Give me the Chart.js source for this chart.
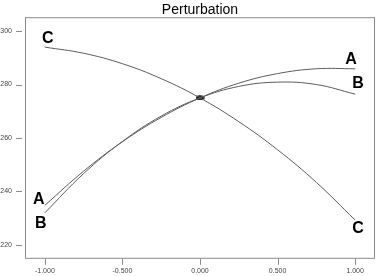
<!DOCTYPE html>
<html>
<head>
<meta charset="utf-8">
<script src="https://cdn.jsdelivr.net/npm/chart.js@4/dist/chart.umd.min.js"></script>
<style>
  html, body { margin: 0; padding: 0; background: #fff; }
  #wrap { width: 380px; height: 276px; }
</style>
</head>
<body>
<div id="wrap"><canvas id="chart"></canvas></div>
<script>
const deviation = [-1, -0.75, -0.5, -0.25, 0, 0.25, 0.5, 0.75, 1]
const seriesA = [234.8, 247.6, 258.6, 267.7, 275, 280.5, 284.1, 285.9, 285.9]
const seriesB = [232.0, 246.7, 258.7, 268.2, 275, 279.3, 280.9, 280.0, 276.4]
const seriesC = [294.0, 291.7, 287.8, 282.2, 275, 266.1, 255.6, 243.4, 229.3]
const xTicks = [-1, -0.5, 0, 0.5, 1]
const yTicks = [220, 240, 260, 280, 300]
const refPoint = { x: 0, y: 275 }

const LINE = "#5c5c5c"
const FRAME = "#8a8a8a"

const toPoints = (values) => values.map((v, i) => ({ x: deviation[i], y: v }))

// small flat ellipse used as the reference point marker
const dot = document.createElement("canvas")
dot.width = 9
dot.height = 5
const dctx = dot.getContext("2d")
dctx.fillStyle = "#000"
dctx.beginPath()
dctx.ellipse(4.5, 2.5, 4.2, 2.3, 0, 0, Math.PI * 2)
dctx.fill()

const curve = (label, values) => ({
  label,
  data: toPoints(values),
  borderColor: LINE,
  borderWidth: 1,
  pointRadius: 0,
  tension: 0.4,
  fill: false,
})

// letters at both ends of each curve, offsets in pixels from the end point
const endLabels = [
  { text: "C", series: seriesC, end: 0, dx: 3, dy: -9 },
  { text: "A", series: seriesA, end: 8, dx: -4, dy: -9 },
  { text: "B", series: seriesB, end: 8, dx: 3, dy: -11 },
  { text: "A", series: seriesA, end: 0, dx: -6, dy: -6 },
  { text: "B", series: seriesB, end: 0, dx: -4, dy: 11 },
  { text: "C", series: seriesC, end: 8, dx: 3, dy: 9 },
]

const framePlugin = {
  id: "frame",
  afterDraw(chart) {
    const { ctx, chartArea: a, scales } = chart
    ctx.save()
    ctx.strokeStyle = FRAME
    ctx.lineWidth = 1
    ctx.strokeRect(a.left + 0.5, a.top + 0.5, a.right - a.left - 1, a.bottom - a.top - 1)
    ctx.beginPath()
    yTicks.forEach((t) => {
      const y = Math.round(scales.y.getPixelForValue(t)) + 0.5
      ctx.moveTo(a.left - 9, y)
      ctx.lineTo(a.left - 3, y)
    })
    xTicks.forEach((t) => {
      const x = Math.round(scales.x.getPixelForValue(t)) + 0.5
      ctx.moveTo(x, a.bottom)
      ctx.lineTo(x, a.bottom + 6)
    })
    ctx.stroke()

    ctx.fillStyle = "#000"
    ctx.font = "bold 16px Arial, 'Liberation Sans', sans-serif"
    ctx.textAlign = "center"
    ctx.textBaseline = "middle"
    endLabels.forEach((l) => {
      const x = scales.x.getPixelForValue(deviation[l.end])
      const y = scales.y.getPixelForValue(l.series[l.end])
      ctx.fillText(l.text, x + l.dx, y + l.dy)
    })
    ctx.restore()
  },
}

new Chart(document.getElementById("chart"), {
  type: "line",
  data: {
    datasets: [
      curve("A", seriesA),
      curve("B", seriesB),
      curve("C", seriesC),
      {
        label: "reference",
        data: [refPoint],
        pointStyle: dot,
        pointRadius: 4,
        showLine: false,
      },
    ],
  },
  options: {
    animation: false,
    responsive: true,
    maintainAspectRatio: false,
    layout: { padding: { left: 0, right: 2, top: 0, bottom: 0 } },
    plugins: {
      legend: { display: false },
      tooltip: { enabled: false },
      title: {
        display: true,
        text: "Perturbation",
        fullSize: false,
        color: "#000",
        font: { family: "Arial, 'Liberation Sans', sans-serif", size: 14, weight: "normal", lineHeight: 1 },
        padding: { top: 1, bottom: 0 },
      },
    },
    scales: {
      x: {
        type: "linear",
        min: -1.128,
        max: 1.128,
        grid: { display: false, drawTicks: false },
        border: { display: false },
        afterBuildTicks: (s) => { s.ticks = xTicks.map((v) => ({ value: v })) },
        afterFit: (s) => { s.height = 17 },
        ticks: {
          padding: 8,
          color: "#444",
          maxRotation: 0,
          font: { family: "Arial, 'Liberation Sans', sans-serif", size: 7 },
          callback: (v) => Number(v).toFixed(3),
        },
      },
      y: {
        min: 214.8,
        max: 305.2,
        grid: { display: false, drawTicks: false },
        border: { display: false },
        afterBuildTicks: (s) => { s.ticks = yTicks.map((v) => ({ value: v })) },
        afterFit: (s) => { s.width = 25 },
        ticks: {
          padding: 13,
          color: "#444",
          font: { family: "Arial, 'Liberation Sans', sans-serif", size: 7 },
          callback: (v) => String(v),
        },
      },
    },
  },
  plugins: [framePlugin],
})
</script>
</body>
</html>
